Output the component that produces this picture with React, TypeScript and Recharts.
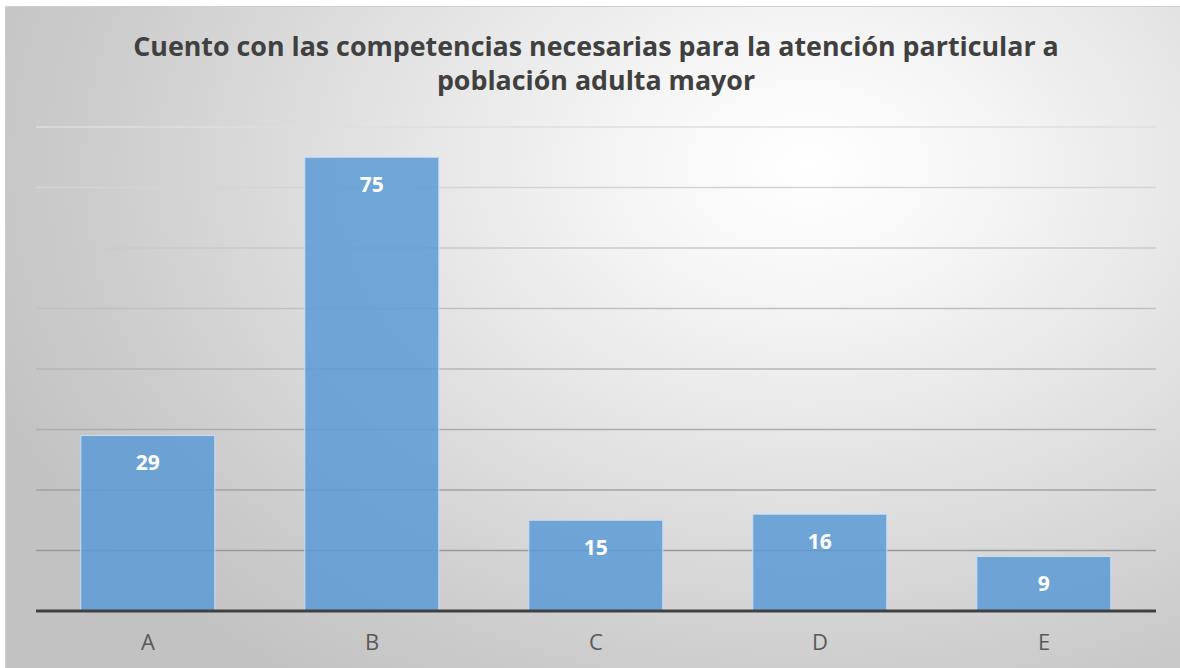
import React from "react";
import { BarChart, Bar, XAxis, YAxis, CartesianGrid, LabelList } from "recharts";

const categories = ["A", "B", "C", "D", "E"];
const values = [29, 75, 15, 16, 9];
const yTicks = [0, 10, 20, 30, 40, 50, 60, 70, 80];
const titleLines = [
  "Cuento con las competencias necesarias para la atención particular a",
  "población adulta mayor",
];

const data = categories.map((c, i) => ({ name: c, value: values[i] }));

export default function App() {
  return (
    <div style={{ position: "absolute", left: 0, top: 0, width: 1180, height: 668, background: "#fff", overflow: "hidden" }}>
      <div
        style={{
          position: "absolute",
          left: 5,
          top: 6,
          width: 1180,
          height: 668,
          borderTop: "1px solid #cfcfcf",
          borderLeft: "1px solid #cfcfcf",
          background:
            "radial-gradient(ellipse 75% 95% at 68% 24%, #ffffff 0%, #f7f7f7 18%, #e2e2e2 50%, #cdcdcd 80%, #c2c2c2 100%)",
        }}
      />
      <div
        style={{
          position: "absolute",
          left: 0,
          top: 29,
          width: 1192,
          textAlign: "center",
          fontFamily: "'Open Sans', sans-serif",
          fontWeight: 700,
          fontSize: 26.8,
          lineHeight: "34px",
          color: "#404040",
        }}
      >
        {titleLines.map((l, i) => (
          <div key={i}>{l}</div>
        ))}
      </div>
      <div style={{ position: "absolute", left: 0, top: 0 }}>
        <BarChart
          width={1180}
          height={668}
          data={data}
          margin={{ top: 127, right: 24, bottom: 0, left: 36 }}
          barCategoryGap="20%"
        >
          <defs>
            <linearGradient id="gridGrad" gradientUnits="userSpaceOnUse" x1="0" y1="127" x2="0" y2="611">
              <stop offset="0%" stopColor="#dedede" />
              <stop offset="100%" stopColor="#8e8e8e" />
            </linearGradient>
          </defs>
          <CartesianGrid vertical={false} stroke="url(#gridGrad)" strokeWidth={1.5} />
          <YAxis hide domain={[0, 80]} ticks={yTicks} />
          <XAxis
            dataKey="name"
            height={57}
            tickLine={false}
            axisLine={{ stroke: "#404040", strokeWidth: 3 }}
            tickMargin={17}
            tick={{ fill: "#595959", fontSize: 22, fontFamily: "'Open Sans', sans-serif" }}
          />
          <Bar
            dataKey="value"
            fill="#5b9bd5"
            fillOpacity={0.85}
            stroke="#c9ddf1"
            strokeWidth={1}
            isAnimationActive={false}
          >
            <LabelList
              dataKey="value"
              position="insideTop"
              offset={20}
              fill="#ffffff"
              fontSize={21}
              fontWeight={700}
              fontFamily="'Open Sans', sans-serif"
            />
          </Bar>
        </BarChart>
      </div>
    </div>
  );
}
